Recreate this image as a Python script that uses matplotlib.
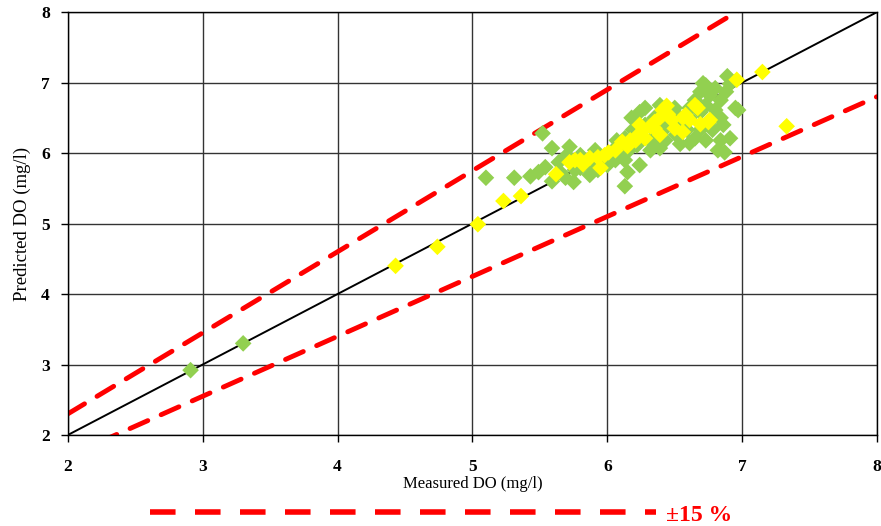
import matplotlib
matplotlib.use("Agg")
import matplotlib.pyplot as plt
from matplotlib.lines import Line2D
import numpy as np

# Data: measured vs predicted DO (mg/l)
green_measured = [2.91, 3.30, 5.52, 5.59, 5.72, 5.31, 5.10, 5.49, 5.54, 5.59, 5.65, 5.69, 5.76,
                  5.64, 5.87, 5.91, 5.98, 6.04, 6.09, 6.13, 6.15, 6.13, 6.24, 6.07, 6.13, 6.19,
                  6.24, 6.28, 6.35, 6.43, 6.39, 6.50, 6.54, 6.61, 6.65, 6.69, 6.73, 6.76, 6.80,
                  6.84, 6.88, 6.91, 6.89, 6.95, 6.97, 6.84, 6.78, 6.84, 6.82, 6.87, 6.91, 6.73,
                  6.65, 6.61, 6.54, 6.43, 6.35, 6.76, 6.69, 6.58, 6.32, 6.22, 6.43, 5.87, 6.00,
                  5.80, 5.93, 6.08, 6.18, 6.28, 6.61, 6.73, 6.80, 6.86, 6.69, 5.70, 5.80, 5.75,
                  5.43, 6.06, 6.16, 6.32, 6.51, 6.39, 6.59, 6.71]
green_predicted = [2.92, 3.30, 6.28, 6.07, 6.09, 5.65, 5.65, 5.73, 5.80, 5.60, 5.73, 5.65, 5.76,
                   5.87, 5.83, 6.04, 5.90, 5.97, 6.04, 5.90, 5.73, 5.53, 5.83, 6.18, 6.21, 6.33,
                   6.58, 6.40, 6.50, 6.58, 6.68, 6.64, 6.50, 6.64, 6.75, 6.87, 6.96, 6.82, 6.92,
                   6.75, 6.87, 6.98, 7.09, 6.64, 6.61, 6.50, 6.33, 6.18, 6.04, 6.01, 6.21, 6.18,
                   6.21, 6.14, 6.13, 6.18, 6.11, 6.44, 6.33, 6.35, 6.18, 6.11, 6.35, 5.69, 5.83,
                   5.79, 5.76, 6.11, 6.50, 6.64, 6.50, 6.68, 6.61, 6.40, 6.58, 5.97, 5.97, 5.59,
                   5.67, 5.90, 6.04, 6.04, 6.26, 6.07, 6.33, 6.99]

yellow_measured = [4.74, 4.43, 5.04, 5.23, 5.36, 5.62, 5.72, 5.80, 5.87, 5.93, 5.98, 6.01, 5.82,
                   5.76, 5.95, 6.06, 6.11, 6.17, 6.22, 6.27, 6.32, 6.35, 6.39, 6.41, 6.45, 6.28,
                   6.39, 6.48, 6.50, 6.61, 6.67, 6.69, 6.76, 6.56, 6.96, 7.15, 7.33, 6.21, 6.15,
                   6.24, 6.35, 6.44, 6.65, 6.58, 6.75, 6.56]
yellow_predicted = [4.67, 4.40, 4.99, 5.32, 5.39, 5.70, 5.87, 5.90, 5.93, 5.94, 5.97, 6.01, 5.84,
                    5.90, 5.79, 6.04, 6.16, 6.18, 6.24, 6.33, 6.38, 6.44, 6.50, 6.61, 6.55, 6.21,
                    6.26, 6.47, 6.35, 6.47, 6.64, 6.41, 6.47, 6.50, 7.04, 7.15, 6.38, 6.18, 6.10,
                    6.40, 6.35, 6.67, 6.68, 6.54, 6.44, 6.30]

x_ticks = [2, 3, 4, 5, 6, 7, 8]
y_ticks = [2, 3, 4, 5, 6, 7, 8]
band = 0.15

plt.rcParams['font.family'] = ['Liberation Serif', 'DejaVu Serif']

fig = plt.figure(figsize=(8.81, 5.26), dpi=100)
ax = fig.add_axes([0.077, 0.173, 0.9185, 0.804])

ax.set_xlim(2, 8)
ax.set_ylim(2, 8)
ax.set_xticks(x_ticks)
ax.set_yticks(y_ticks)
ax.grid(True, color='#333333', linewidth=1.0)
ax.set_axisbelow(True)
for s in ax.spines.values():
    s.set_color('black')
    s.set_linewidth(1.0)
ax.tick_params(direction='out', length=5, width=1, color='black', labelsize=12.5)
ax.tick_params(axis='x', pad=12)
ax.tick_params(axis='y', pad=8)
for lab in ax.get_xticklabels() + ax.get_yticklabels():
    lab.set_fontweight('bold')

line_x = np.array([2.0, 8.0])
ax.plot(line_x, line_x, color='black', linewidth=1.4, zorder=2)
ax.plot(line_x, line_x * (1 + band), color='#ff0000', linewidth=3.5,
        dashes=(4, 3), zorder=2, dash_capstyle='round')
ax.plot(line_x, line_x * (1 - band), color='#ff0000', linewidth=3.5,
        dashes=(4, 3), zorder=2, dash_capstyle='round')

ax.scatter(green_measured, green_predicted, marker='D', s=72, color='#92d050',
           edgecolors='none', zorder=3)
ax.scatter(yellow_measured, yellow_predicted, marker='D', s=72, color='#ffff00',
           edgecolors='none', zorder=4)

ax.set_xlabel('Measured DO (mg/l)', fontsize=12, labelpad=1)
ax.set_ylabel('Predicted DO (mg/l)', fontsize=13.5, labelpad=7)

handle = Line2D([0], [0], color='#ff0000', linewidth=4, dashes=(4.6, 3.5))
leg = fig.legend([handle], ['\u00b115 %'], loc='center left',
                 bbox_to_anchor=(0.152, 0.021), frameon=False,
                 handlelength=21.4, handletextpad=0.45, borderaxespad=0.3,
                 prop={'size': 17, 'weight': 'bold'}, labelcolor='#ff0000')

fig.savefig('out.png', dpi=100)
